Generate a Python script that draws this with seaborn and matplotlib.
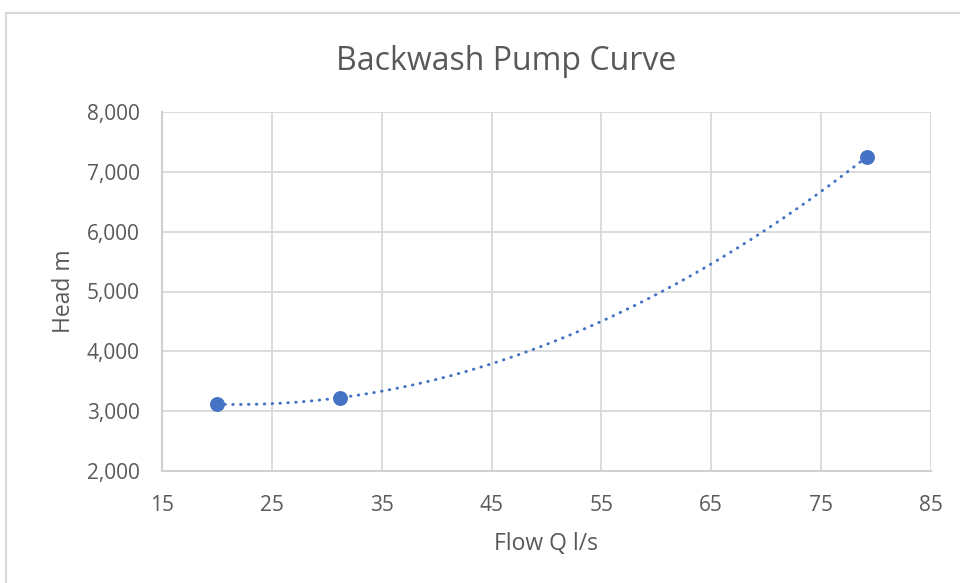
import matplotlib
matplotlib.use("Agg")
import matplotlib.pyplot as plt
import numpy as np
import pandas as pd
import seaborn as sns

# data
flow = [20.0, 31.2, 79.2]          # Flow Q l/s
head = [3115, 3225, 7255]          # Head m
x_ticks = [15, 25, 35, 45, 55, 65, 75, 85]
y_ticks = [2000, 3000, 4000, 5000, 6000, 7000, 8000]

df = pd.DataFrame({"flow": flow, "head": head})

# 2nd order polynomial trendline (as in Excel)
coef = np.polyfit(df["flow"], df["head"], 2)
xs = np.linspace(min(flow), max(flow), 200)
trend = pd.DataFrame({"flow": xs, "head": np.polyval(coef, xs)})

sns.set_style("white")
plt.rcParams["font.family"] = ["Open Sans", "DejaVu Sans"]
txt = "#595959"
blue = "#4472C4"
grid = "#d9d9d9"

fig = plt.figure(figsize=(9.6, 5.83), dpi=100)
ax = fig.add_axes([162/960, 1 - 471/583, (931-162)/960, (471-112)/583])

sns.lineplot(data=trend, x="flow", y="head", ax=ax, color=blue,
             linewidth=2.1, linestyle=(0, (0.2, 2.5)),
             dash_capstyle="round", zorder=2)
sns.scatterplot(data=df, x="flow", y="head", ax=ax, color=blue,
                s=115, edgecolor=blue, linewidth=0, zorder=3)

ax.set_xlim(15, 85)
ax.set_ylim(2000, 8000)
ax.set_xticks(x_ticks)
ax.set_yticks(y_ticks)
ax.set_yticklabels([f"{v:,}" for v in y_ticks])
ax.grid(True, color=grid, linewidth=1.3)
ax.set_axisbelow(True)
for side in ["top", "right"]:
    ax.spines[side].set_visible(False)
for side in ["left", "bottom"]:
    ax.spines[side].set_color("#d0d0d0")
    ax.spines[side].set_linewidth(1.5)
ax.tick_params(axis="both", length=0, labelsize=15, labelcolor=txt)
ax.tick_params(axis="x", pad=17)
ax.tick_params(axis="y", pad=16)

ax.set_xlabel("Flow Q l/s", fontsize=16.5, color=txt, labelpad=12)
ax.set_ylabel("Head m", fontsize=16.5, color=txt, labelpad=8)

fig.text(506/960, 1 - 62/583, "Backwash Pump Curve", fontsize=23,
         color=txt, ha="center", va="center")

# chart area border
fig.add_artist(plt.Line2D([6/960, 1], [1 - 13/583, 1 - 13/583],
                          transform=fig.transFigure, color="#d9d9d9", linewidth=1.5))
fig.add_artist(plt.Line2D([6/960, 6/960], [0, 1 - 13/583],
                          transform=fig.transFigure, color="#d9d9d9", linewidth=1.5))

fig.savefig("out.png", dpi=100)
